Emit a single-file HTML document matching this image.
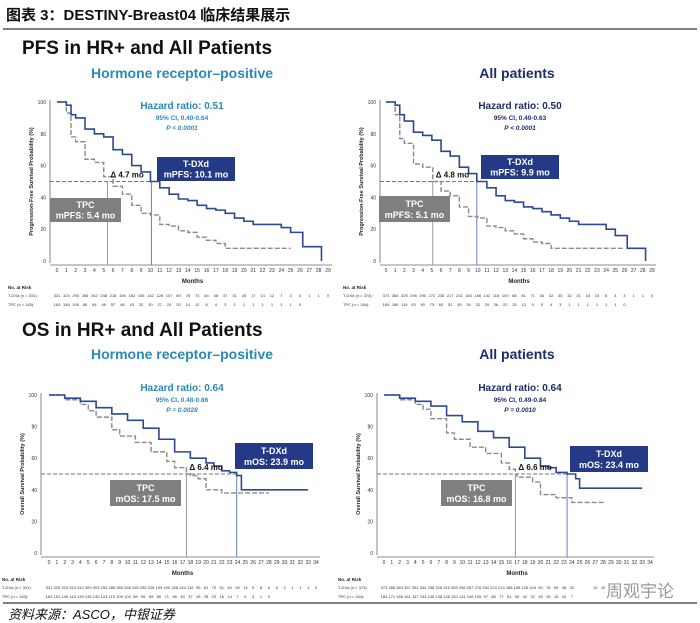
<!DOCTYPE html>
<html><head><meta charset="utf-8"><style>
body{margin:0;background:#fff;}
svg{display:block;font-family:"Liberation Sans","Noto Sans CJK SC",sans-serif;}
</style></head><body>
<svg id="c" width="700" height="623" viewBox="0 0 700 623">
<text x="6" y="20" font-size="15" font-weight="bold" fill="#111">图表 3：DESTINY-Breast04 临床结果展示</text>
<line x1="3" y1="29" x2="697" y2="29" stroke="#555" stroke-width="1.5"/>
<text x="22" y="54" font-size="19" font-weight="bold" fill="#111">PFS in HR+ and All Patients</text>
<text x="22" y="336" font-size="19" font-weight="bold" fill="#111">OS in HR+ and All Patients</text>
<line x1="3" y1="603" x2="697" y2="603" stroke="#555" stroke-width="1.5"/>
<text x="8" y="619" font-size="13" font-style="italic" fill="#111">资料来源：ASCO，中银证券</text>
<text x="606" y="597" font-size="17" fill="#999">周观宇论</text>
</svg>
<script>
// PFS HR+
const pfsHrMonths = [0,1,1.5,2,3,4,5,6,7,8,9,10,11,12,13,14,15,16,17,18,19,20,21,23,24,25,26.3,28.3];
const pfsHrTdxd   = [100,98,92,90,83,80,78,70,67,60,56,50,46,42,39,38,35,33,32,30,27,25,23,23,21,18,9,0];
const pfsHrTpcMonths = [0,1,1.5,2,3,4,5,6,7,8,9,10,11,12,13,14,15,16,17,18,25];
const pfsHrTpc       = [100,93,78,75,64,62,53,47,42,35,30,29,23,22,19,18,15,13,11,8,8];
// PFS All
const pfsAllMonths = [0,1,1.5,2,3,4,5,6,7,8,9,9.9,11,12,13,14,15,16,17,18,19,20,21,23,24,25,26.3,28.3];
const pfsAllTdxd   = [100,98,92,88,81,79,76,69,66,59,55,50,46,41,38,37,34,33,31,29,27,25,23,23,20,16,8,0];
const pfsAllTpcMonths = [0,1,1.5,2,3,4,5.1,6,7,8,9,10,11,12,13,14,15,16,17,18,26];
const pfsAllTpc       = [100,92,77,74,61,59,50,44,41,34,28,27,22,21,19,17,14,12,11,8,8];
// OS HR+
const osHrMonths = [0,2,4,6,8,10,12,14,16,18,20,21,22,23,23.9,24.5,33];
const osHrTdxd   = [100,98,96,92,88,84,79,72,64,60,57,55,52,51,49,40,40];
const osHrTpcMonths = [0,2,4,5,6,8,9,11,13,15,16,17.5,18,19,20,22,28];
const osHrTpc       = [100,97,94,90,86,78,74,70,64,58,54,50,49,47,40,38,38];
// OS All
const osAllMonths = [0,2,4,6,8,10,12,14,16,18,20,21,22,23.4,24.5,25,33];
const osAllTdxd   = [100,98,96,93,87,83,77,73,67,60,55,54,51,50,47,41,41];
const osAllTpcMonths = [0,2,4,5,6,8,9,11,13,15,16,16.8,17,19,20,22,24,28];
const osAllTpc       = [100,97,94,91,85,76,72,67,63,57,53,50,48,45,37,35,32,31];

const pfsRiskHrT = ["331","324","290","265","262","248","218","198","182","165","142","128","107","89","78","73","64","48","37","31","28","17","14","12","7","4","4","1","1","0"];
const pfsRiskHrP = ["163","146","105","85","84","69","57","48","43","32","30","27","24","20","14","12","8","4","3","2","1","1","1","1","1","1","0"];
const pfsRiskAllT = ["373","365","325","295","290","272","238","217","201","183","156","142","118","100","88","81","71","53","42","35","32","21","18","15","8","4","4","1","1","0"];
const pfsRiskAllP = ["184","166","119","93","90","73","60","51","45","34","32","29","26","22","15","13","9","5","4","3","1","1","1","1","1","1","0"];
const osRiskHrT = ["331","325","323","319","314","309","303","293","285","280","268","260","250","228","199","190","168","144","116","95","81","70","51","40","26","14","9","8","6","6","2","1","1","1","0"];
const osRiskHrP = ["163","151","145","143","139","135","130","124","119","109","104","98","96","89","80","71","56","45","37","28","25","23","16","14","7","5","3","1","0"];
const osRiskAllT = ["373","366","363","357","351","344","338","326","315","309","296","287","276","254","223","214","188","158","129","104","90","78","59","48","32","","","12","10","","","","","",""];
const osRiskAllP = ["184","171","165","161","157","153","146","138","128","120","114","108","105","97","88","77","61","50","42","32","28","25","18","16","7","","",""];

const svg=document.getElementById('c');
const NS='http://www.w3.org/2000/svg';
function el(tag,attrs,txt){const e=document.createElementNS(NS,tag);for(const k in attrs)e.setAttribute(k,attrs[k]);if(txt!==undefined)e.textContent=txt;svg.appendChild(e);return e;}
function stepPath(xs,ys,X,Y){let d='M'+X(xs[0])+','+Y(ys[0]);for(let i=1;i<xs.length;i++){d+=' H'+X(xs[i])+' V'+Y(ys[i]);}return d;}

function panel(o){
  const X=m=>o.x0+m*(o.x1-o.x0)/o.maxM;
  const Y=v=>o.y0-v*(o.y0-o.y100)/100;
  const ax=el('line',{x1:o.ax,y1:o.y100-2,x2:o.ax,y2:o.y0+2,stroke:'#666','stroke-width':0.8});
  
  
  const bx=el('line',{x1:o.ax,y1:o.y0+4,x2:X(o.maxM)+4,y2:o.y0+4,stroke:'#666','stroke-width':0.8});
  
  
  for(let v=0;v<=100;v+=20){
    const t=el('text',{x:o.ax-4,y:Y(v)+2,'font-size':5,'text-anchor':'end',fill:'#333'},String(v));
    
    
  }
  for(let m=0;m<=o.maxM;m++){
    const t=el('text',{x:X(m),y:o.y0+11,'font-size':5,'text-anchor':'middle',fill:'#333'},String(m));
    
    
  }
  const mt=el('text',{x:(o.x0+o.x1)/2,y:o.y0+22,'font-size':6,'font-weight':'bold','text-anchor':'middle',fill:'#222'},'Months');
  
  
  const yt=el('text',{x:0,y:0,'font-size':5.5,'font-weight':'bold','text-anchor':'middle',fill:'#222',transform:'translate('+(o.ax-17)+','+((o.y0+o.y100)/2)+') rotate(-90)'},o.ytitle);
  
  
  const hl=el('line',{x1:o.ax,y1:Y(50),x2:X(o.medT),y2:Y(50),stroke:'#777','stroke-width':0.9,'stroke-dasharray':'4,2'});
  
  
  const vp=el('line',{x1:X(o.medP),y1:Y(50),x2:X(o.medP),y2:o.y0+4,stroke:'#999','stroke-width':1});
  
  
  const vt=el('line',{x1:X(o.medT),y1:Y(50),x2:X(o.medT),y2:o.y0+4,stroke:'#6a7fbf','stroke-width':1});
  
  
  const cp=el('path',{d:stepPath(o.pm,o.pv,X,Y),fill:'none',stroke:'#8a8a8a','stroke-width':1.4,'stroke-dasharray':'5,2'});
  
  
  const ct=el('path',{d:stepPath(o.tm,o.tv,X,Y),fill:'none',stroke:'#2a4a94','stroke-width':1.6});
  
  
  const dl=el('text',{x:X(o.medP)+3,y:Y(50)-4,'font-size':8,'font-weight':'bold',fill:'#111'},'Δ '+o.delta+' mo');
  
  
  const hr=el('text',{x:o.hrx,y:o.hry,'font-size':10,'font-weight':'bold','text-anchor':'middle',fill:o.hrc},'Hazard ratio: '+o.hr);
  
  
  const ci=el('text',{x:o.hrx,y:o.hry+11,'font-size':6.5,'font-weight':'bold','text-anchor':'middle',fill:o.hrc},'95% CI, '+o.ci);
  
  
  const pv=el('text',{x:o.hrx,y:o.hry+21,'font-size':6.5,'font-weight':'bold','font-style':'italic','text-anchor':'middle',fill:o.hrc},o.p);
  
  
  const bt=el('rect',{x:o.tb[0],y:o.tb[1],width:o.tb[2],height:o.tb[3],fill:'#253a86'});
  
  
  const bt1=el('text',{x:o.tb[0]+o.tb[2]/2,y:o.tb[1]+o.tb[3]*0.42,'font-size':9,'font-weight':'bold','text-anchor':'middle',fill:'#fff'},'T-DXd');
  
  
  const bt2=el('text',{x:o.tb[0]+o.tb[2]/2,y:o.tb[1]+o.tb[3]*0.85,'font-size':9,'font-weight':'bold','text-anchor':'middle',fill:'#fff'},o.tText);
  
  
  const bp=el('rect',{x:o.pb[0],y:o.pb[1],width:o.pb[2],height:o.pb[3],fill:'#7f7f7f'});
  
  
  const bp1=el('text',{x:o.pb[0]+o.pb[2]/2,y:o.pb[1]+o.pb[3]*0.42,'font-size':9,'font-weight':'bold','text-anchor':'middle',fill:'#fff'},'TPC');
  
  
  const bp2=el('text',{x:o.pb[0]+o.pb[2]/2,y:o.pb[1]+o.pb[3]*0.85,'font-size':9,'font-weight':'bold','text-anchor':'middle',fill:'#fff'},o.pText);
  
  
  const nr=el('text',{x:o.riskLx,y:o.y0+28,'font-size':4.5,'font-weight':'bold',fill:'#222'},'No. at Risk');
  
  
  const l1=el('text',{x:o.riskLx,y:o.y0+36,'font-size':4,fill:'#333'},o.nT);
  
  
  const l2=el('text',{x:o.riskLx,y:o.y0+45,'font-size':4,fill:'#333'},o.nP);
  
  
  o.rT.forEach((s,i)=>{const t=el('text',{x:X(i),y:o.y0+36,'font-size':4,'text-anchor':'middle',fill:'#333'},s);
    
    });
  o.rP.forEach((s,i)=>{const t=el('text',{x:X(i),y:o.y0+45,'font-size':4,'text-anchor':'middle',fill:'#333'},s);
    
    });
  const st=el('text',{x:o.subx,y:o.suby,'font-size':14,'font-weight':'bold','text-anchor':'middle',fill:o.subc},o.sub);
  
  
}
const pfsY='Progression-Free Survival Probability (%)', osY='Overall Survival Probability (%)';
panel({x0:57,x1:328,maxM:29,y0:261,y100:102,ax:50,ytitle:pfsY,medT:10.1,medP:5.4,delta:'4.7',
  tm:pfsHrMonths,tv:pfsHrTdxd,pm:pfsHrTpcMonths,pv:pfsHrTpc,hr:'0.51',ci:'0.40-0.64',p:'P < 0.0001',hrx:182,hry:109,hrc:'#2a8ab8',
  tb:[157,157,78,24],tText:'mPFS: 10.1 mo',pb:[50,198,71,24],pText:'mPFS: 5.4 mo',riskLx:8,nT:'T-DXd (n = 331):',nP:'TPC (n = 163):',rT:pfsRiskHrT,rP:pfsRiskHrP,
  sub:'Hormone receptor–positive',subx:182,suby:78,subc:'#2a8ab8'});
panel({x0:386,x1:652,maxM:29,y0:261,y100:102,ax:380,ytitle:pfsY,medT:9.9,medP:5.1,delta:'4.8',
  tm:pfsAllMonths,tv:pfsAllTdxd,pm:pfsAllTpcMonths,pv:pfsAllTpc,hr:'0.50',ci:'0.40-0.63',p:'P < 0.0001',hrx:520,hry:109,hrc:'#1d2d6a',
  tb:[481,155,78,24],tText:'mPFS: 9.9 mo',pb:[379,196,71,26],pText:'mPFS: 5.1 mo',riskLx:343,nT:'T-DXd (n = 373):',nP:'TPC (n = 184):',rT:pfsRiskAllT,rP:pfsRiskAllP,
  sub:'All patients',subx:517,suby:78,subc:'#1d2d6a'});
panel({x0:49,x1:316,maxM:34,y0:553,y100:395,ax:41,ytitle:osY,medT:23.9,medP:17.5,delta:'6.4',
  tm:osHrMonths,tv:osHrTdxd,pm:osHrTpcMonths,pv:osHrTpc,hr:'0.64',ci:'0.48-0.86',p:'P = 0.0028',hrx:182,hry:391,hrc:'#2a8ab8',
  tb:[235,443,78,26],tText:'mOS: 23.9 mo',pb:[110,480,71,26],pText:'mOS: 17.5 mo',riskLx:2,nT:'T-DXd (n = 331):',nP:'TPC (n = 163):',rT:osRiskHrT,rP:osRiskHrP,
  sub:'Hormone receptor–positive',subx:182,suby:359,subc:'#2a8ab8'});
panel({x0:384,x1:650,maxM:34,y0:553,y100:395,ax:377,ytitle:osY,medT:23.4,medP:16.8,delta:'6.6',
  tm:osAllMonths,tv:osAllTdxd,pm:osAllTpcMonths,pv:osAllTpc,hr:'0.64',ci:'0.49-0.84',p:'P = 0.0010',hrx:520,hry:391,hrc:'#1d2d6a',
  tb:[570,446,78,26],tText:'mOS: 23.4 mo',pb:[441,480,71,26],pText:'mOS: 16.8 mo',riskLx:338,nT:'T-DXd (n = 373):',nP:'TPC (n = 184):',rT:osRiskAllT,rP:osRiskAllP,
  sub:'All patients',subx:517,suby:359,subc:'#1d2d6a'});
</script>
</body></html>
